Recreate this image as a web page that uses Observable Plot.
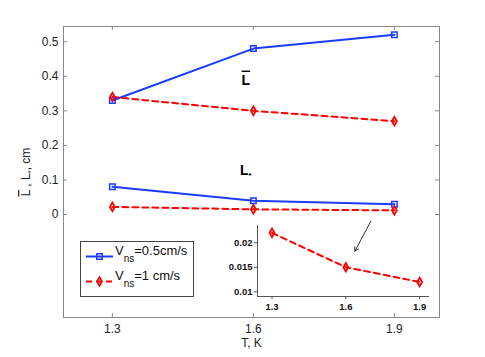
<!DOCTYPE html>
<html>
<head>
<meta charset="utf-8">
<script src="https://cdn.jsdelivr.net/npm/d3@7"></script>
<script src="https://cdn.jsdelivr.net/npm/@observablehq/plot@0.6"></script>
<style>
  html, body { margin: 0; padding: 0; background: white; }
  #wrap { position: relative; width: 485px; height: 357px; font-family: "Liberation Sans", Arial, sans-serif; }
  #wrap svg { font-family: "Liberation Sans", Arial, sans-serif; }
  #inset { position: absolute; left: 215px; top: 215px; }
</style>
</head>
<body>
<div id="wrap"><div id="main"></div><div id="inset"></div></div>
<script>
// ---- data ----
const T = [1.3, 1.6, 1.9];
const Lbar_v05 = [0.33, 0.48, 0.52];
const Lbar_v1 = [0.34, 0.30, 0.27];
const Lstar_v05 = [0.08, 0.04, 0.03];
const Lstar_v1 = [0.022, 0.015, 0.012];
const seriesNames = ["V_ns=0.5cm/s", "V_ns=1 cm/s"];
const xTicks = [1.3, 1.6, 1.9];
const yTicks = [0, 0.1, 0.2, 0.3, 0.4, 0.5];
const insetXTicks = [1.3, 1.6, 1.9];
const insetYTicks = [0.01, 0.015, 0.02];

const BLUE = "#1a3cff", RED = "#ff0000", GRAY = "#888";
const mk = (ys, series, curve) => ys.map((v, i) => ({T: T[i], L: v, series, curve}));
const solid = [...mk(Lbar_v05, seriesNames[0], "bar"), ...mk(Lstar_v05, seriesNames[0], "star")];
const dashed = [...mk(Lbar_v1, seriesNames[1], "bar"), ...mk(Lstar_v1, seriesNames[1], "star")];
const insetData = mk(Lstar_v1, seriesNames[1], "star");

const W = 485, H = 357, mL = 63, mR = 46, mT = 26, mB = 40;
const pw = W - mL - mR, ph = H - mT - mB;
const xDom = [1.196, 1.996], yDom = [-0.298, 0.544];

const main = Plot.plot({
  width: W, height: H,
  marginLeft: mL, marginRight: mR, marginTop: mT, marginBottom: mB,
  style: {fontSize: "12px", color: "#222", background: "white"},
  x: {domain: xDom},
  y: {domain: yDom},
  marks: [
    Plot.frame({stroke: GRAY}),
    Plot.tickY(yTicks, {y: d => d, insetRight: pw - 4, stroke: GRAY}),
    Plot.tickY(yTicks, {y: d => d, insetLeft: pw - 4, stroke: GRAY}),
    Plot.tickX(xTicks, {x: d => d, insetTop: ph - 4, stroke: GRAY}),
    Plot.tickX(xTicks, {x: d => d, insetBottom: ph - 4, stroke: GRAY}),
    Plot.axisY(yTicks, {tickSize: 0, tickPadding: 5, fontSize: 12, tickFormat: d => d === 0 ? "0" : String(d),
      label: "L, L*, cm", labelAnchor: "center", labelOffset: 42, labelArrow: "none"}),
    Plot.axisX(xTicks, {tickSize: 0, tickPadding: 7, fontSize: 12, tickFormat: d => d.toFixed(1),
      label: "T, K", labelAnchor: "center", labelOffset: 29, labelArrow: "none"}),
    Plot.line(solid, {x: "T", y: "L", z: "curve", stroke: BLUE, strokeWidth: 2}),
    Plot.line(dashed, {x: "T", y: "L", z: "curve", stroke: RED, strokeWidth: 2, strokeDasharray: "6,4"}),
    Plot.dot(solid, {x: "T", y: "L", symbol: "square", r: 3.1, stroke: BLUE, strokeWidth: 1.5, fill: "none"}),
    Plot.dot(dashed, {x: "T", y: "L", symbol: "diamond", r: 2.6, stroke: RED, strokeWidth: 1.8, fill: "none"}),
    Plot.text(["L"], {x: 1.584, y: 0.376, text: d => d, fontSize: 14, fontWeight: "bold", fill: "#000", lineAnchor: "bottom", ariaDescription: "Lbar"}),
    Plot.text(["L"], {x: 1.584, y: 0.113, text: d => d, fontSize: 14, fontWeight: "bold", fill: "#000", lineAnchor: "bottom", ariaDescription: "Lstar"}),
    Plot.arrow([0], {x1: 1.85, y1: -0.019, x2: 1.816, y2: -0.106, stroke: "#000", strokeWidth: 0.8, headLength: 8})
  ]
});
document.getElementById("main").appendChild(main);

const svg = d3.select(main);
// the two annotation texts, in document order: L-bar, then L*
let annot = Array.from(main.querySelectorAll("text")).filter(t => t.textContent === "L");
const byDesc = d => main.querySelector(`[aria-description='${d}'] text`);
if (byDesc("Lbar") && byDesc("Lstar")) annot = [byDesc("Lbar"), byDesc("Lstar")];
if (annot[0]) {
  const t = d3.select(annot[0]);
  t.text(null);
  t.append("tspan").style("text-decoration", "overline").text("L");
}
if (annot[1]) {
  const t = d3.select(annot[1]);
  t.text(null);
  t.append("tspan").text("L");
  t.append("tspan").attr("font-size", 8).attr("dy", 3).text("*");
}
// y-axis label: overline on first L, subscript star on the second
const yl = svg.select("g[aria-label='y-axis label'] text");
if (!yl.empty()) {
  yl.text(null);
  yl.append("tspan").style("text-decoration", "overline").text("L");
  yl.append("tspan").text(" , L");
  yl.append("tspan").attr("font-size", 8).attr("dy", 3).text("*");
  yl.append("tspan").attr("dy", -3).text(", cm");
}

// legend
const lg = svg.append("g").attr("text-anchor", "start");
lg.append("rect").attr("x", 80.5).attr("y", 241.5).attr("width", 113).attr("height", 55)
  .attr("fill", "white").attr("stroke", "#444").attr("stroke-width", 1);
const entries = [
  {color: BLUE, dash: null, sym: "square", y: 256.5, rest: "=0.5cm/s"},
  {color: RED, dash: "6,4", sym: "diamond", y: 281.5, rest: "=1 cm/s"}
];
entries.forEach(e => {
  lg.append("line").attr("x1", 86).attr("x2", 113).attr("y1", e.y).attr("y2", e.y)
    .attr("stroke", e.color).attr("stroke-width", 2).attr("stroke-dasharray", e.dash);
  const sym = e.sym === "square" ? d3.symbol(d3.symbolSquare, 30) : d3.symbol(d3.symbolDiamond, 21);
  lg.append("path").attr("d", sym()).attr("transform", `translate(99.5,${e.y})`)
    .attr("fill", "none").attr("stroke", e.color).attr("stroke-width", e.sym === "square" ? 1.5 : 1.8);
  const t = lg.append("text").attr("x", 115).attr("y", e.y - 1.5).attr("font-size", 13).attr("fill", "#111");
  t.append("tspan").text("V");
  t.append("tspan").attr("font-size", 10).attr("dy", 6.5).text("ns");
  t.append("tspan").attr("dy", -6.5).text(e.rest);
});

// inset
const iW = 225, iH = 100, iL = 42, iR = 11, iT = 10, iB = 19;
const ixDom = [1.241, 1.94], iyDom = [0.00904, 0.0235];
const inset = Plot.plot({
  width: iW, height: iH,
  marginLeft: iL, marginRight: iR, marginTop: iT, marginBottom: iB,
  style: {background: "transparent", fontSize: "9.5px", color: "#111", overflow: "visible"},
  x: {domain: ixDom},
  y: {domain: iyDom},
  marks: [
    Plot.ruleX([ixDom[0]], {stroke: "#555"}),
    Plot.ruleY([iyDom[0]], {stroke: "#555"}),
    Plot.axisY(insetYTicks, {tickSize: 3, tickPadding: 2, fontWeight: "bold", fontSize: 9.5, stroke: "#555",
      tickFormat: d => String(d), label: null}),
    Plot.axisX(insetXTicks, {tickSize: 3, tickPadding: 4, fontWeight: "bold", fontSize: 9.5, stroke: "#555",
      tickFormat: d => d.toFixed(1), label: null}),
    Plot.line(insetData, {x: "T", y: "L", stroke: RED, strokeWidth: 2, strokeDasharray: "6,4"}),
    Plot.dot(insetData, {x: "T", y: "L", symbol: "diamond", r: 2.6, stroke: RED, strokeWidth: 1.8, fill: "none"})
  ]
});
document.getElementById("inset").appendChild(inset);
</script>
</body>
</html>
